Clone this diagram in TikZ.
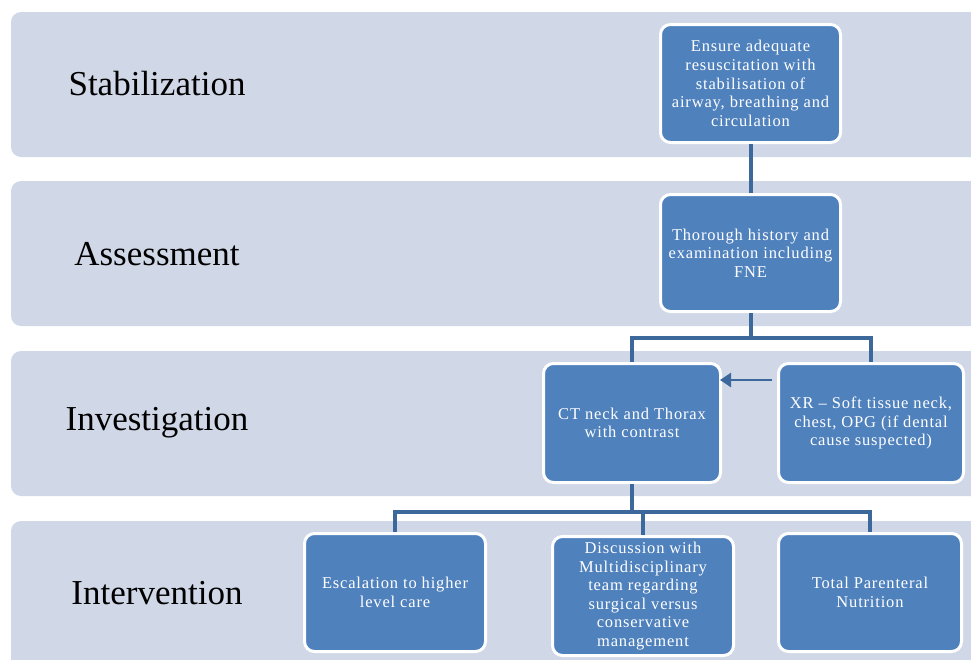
\documentclass[tikz,border=0pt]{standalone}
\usepackage{fontspec}
\setmainfont{Liberation Serif}
\newfontfamily\boxfont[LetterSpace=5]{Liberation Serif}
\usetikzlibrary{arrows.meta}
\definecolor{bandcol}{HTML}{D0D8E8}
\definecolor{boxcol}{HTML}{4F81BD}
\definecolor{linecol}{HTML}{3D689C}
\tikzset{
  band/.style={fill=bandcol, draw=none, rounded corners=10pt},
  stage/.style={font=\fontsize{35}{42}\selectfont, text=black, anchor=center},
  stepbox/.style={draw=white, line width=3pt, fill=boxcol, rounded corners=10pt,
    text=white, align=center, inner sep=2pt,
    font=\boxfont\fontsize{16.5}{18.6}\selectfont},
  conn/.style={draw=linecol, line width=4pt},
}
\begin{document}
\begin{tikzpicture}[x=1pt, y=-1pt]
\useasboundingbox (0,0) rectangle (971,659);
\clip (0,0) rectangle (971,659);
% bands
\fill[band] (11,12) rectangle (1000,157);
\fill[band] (11,181) rectangle (1000,326);
\fill[band] (11,351) rectangle (1000,496);
\fill[band] (11,521) rectangle (1000,690);
% stage labels
\node[stage] (lstab) at (157,84) {Stabilization};
\node[stage] (lass) at (157,254) {Assessment};
\node[stage] (linv) at (157,423) {Investigation};
\node[stage] (lint) at (157,593) {Intervention};
% coordinates
\coordinate (ensc) at (750.5,83.5);
\coordinate (thorc) at (750.5,253);
\coordinate (j1) at (750.5,338);
\coordinate (j2) at (632,512);
\coordinate (ay) at (0,380);
% boxes
\node[stepbox, minimum width=180pt, minimum height=118pt] (ens) at (ensc)
  {Ensure adequate\\resuscitation with\\stabilisation of\\airway, breathing and\\circulation};
\node[stepbox, minimum width=180pt, minimum height=117pt] (thor) at (thorc)
  {Thorough history and\\examination including\\FNE};
\node[stepbox, minimum width=177pt, minimum height=119pt] (ct) at (632,423)
  {CT neck and Thorax\\with contrast};
\node[stepbox, minimum width=185pt, minimum height=119pt] (xr) at (871,423)
  {XR – Soft tissue neck,\\chest, OPG (if dental\\cause suspected)};
\node[stepbox, minimum width=181pt, minimum height=118pt] (esc) at (395,592.5)
  {Escalation to higher\\level care};
\node[stepbox, minimum width=181pt, minimum height=119pt] (disc) at (643,596)
  {Discussion with\\Multidisciplinary\\team regarding\\surgical versus\\conservative\\management};
\node[stepbox, minimum width=183pt, minimum height=118pt] (tpn) at (870,592.5)
  {Total Parenteral\\Nutrition};
% connectors
\draw[conn] (ens.south) -- (thor.north);
\draw[conn] (thor.south) -- (j1);
\draw[conn] (j1) -| (ct.north);
\draw[conn] (j1) -| (xr.north);
\draw[conn] (ct.south) -- (j2);
\draw[conn] (j2) -| (esc.north);
\draw[conn] (j2) -| (disc.north);
\draw[conn] (j2) -| (tpn.north);
\draw[conn, line width=2.5pt, -{Triangle[length=11pt,width=14pt]}, shorten <=5pt, shorten >=-2pt]
  (xr.west |- ay) -- (ct.east |- ay);
\end{tikzpicture}
\end{document}
